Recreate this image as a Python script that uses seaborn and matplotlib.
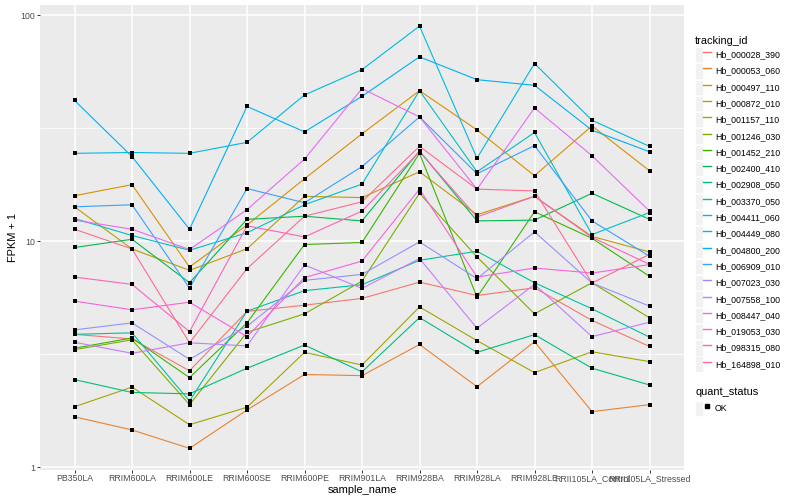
import numpy as np
import pandas as pd
import matplotlib
matplotlib.use("Agg")
import matplotlib.pyplot as plt
import seaborn as sns
from matplotlib.patches import Rectangle
from matplotlib.lines import Line2D
from matplotlib.legend_handler import HandlerTuple

plt.rcParams['font.family'] = ['Liberation Sans', 'DejaVu Sans']

samples = ["PB350LA", "RRIM600LA", "RRIM600LE", "RRIM600SE", "RRIM600PE", "RRIM901LA",
           "RRIM928BA", "RRIM928LA", "RRIM928LE", "RRII105LA_Control", "RRII105LA_Stressed"]

tracking_ids = ["Hb_000028_390", "Hb_000053_060", "Hb_000497_110", "Hb_000872_010",
                "Hb_001157_110", "Hb_001246_030", "Hb_001452_210", "Hb_002400_410",
                "Hb_002908_050", "Hb_003370_050", "Hb_004411_060", "Hb_004449_080",
                "Hb_004800_200", "Hb_006909_010", "Hb_007023_030", "Hb_007558_100",
                "Hb_008447_040", "Hb_019053_030", "Hb_098315_080", "Hb_164898_010"]

hb_000028_390 = [3.87, 3.69, 2.67, 4.89, 5.21, 5.58, 6.59, 5.75, 6.22, 4.46, 3.42]
hb_000053_060 = [1.67, 1.46, 1.21, 1.79, 2.57, 2.54, 3.49, 2.27, 3.59, 1.76, 1.89]
hb_000497_110 = [15.9, 17.8, 7.69, 11.8, 18.9, 29.9, 46.4, 31.1, 19.5, 32.4, 20.5]
hb_000872_010 = [14.2, 9.24, 7.43, 9.26, 15.8, 15.6, 20.3, 13.1, 15.8, 10.5, 8.96]
hb_001157_110 = [1.85, 2.26, 1.54, 1.84, 3.22, 2.83, 5.12, 3.63, 2.62, 3.24, 2.93]
hb_001246_030 = [3.31, 3.66, 1.89, 3.95, 4.77, 6.66, 16.3, 8.52, 4.77, 6.55, 4.58]
hb_001452_210 = [3.36, 3.73, 2.49, 4.35, 9.67, 9.87, 24.5, 5.65, 13.5, 10.3, 6.99]
hb_002400_410 = [9.38, 10.2, 6.55, 12.5, 12.9, 12.3, 25.1, 12.3, 12.4, 16.3, 12.5]
hb_002908_050 = [2.44, 2.14, 2.11, 2.74, 3.47, 2.64, 4.59, 3.22, 3.86, 2.74, 2.31]
hb_003370_050 = [3.87, 3.93, 1.96, 4.90, 6.04, 6.42, 8.23, 9.03, 6.55, 5.02, 3.76]
hb_004411_060 = [12.6, 10.6, 9.12, 10.9, 14.5, 17.9, 46.4, 20.3, 30.3, 10.7, 13.4]
hb_004449_080 = [24.5, 24.7, 24.5, 27.4, 44.4, 57.5, 89.6, 23.3, 61.2, 34.3, 26.3]
hb_004800_200 = [42.0, 23.7, 11.3, 39.5, 30.5, 43.8, 65.5, 51.9, 49.0, 31.0, 24.9]
hb_006909_010 = [14.2, 14.5, 6.20, 17.1, 14.8, 21.4, 35.5, 19.9, 26.5, 12.3, 8.58]
hb_007023_030 = [4.05, 4.35, 3.00, 4.20, 6.71, 7.13, 9.93, 6.83, 11.0, 6.53, 5.16]
hb_007558_100 = [3.57, 3.19, 3.55, 3.44, 7.85, 6.18, 8.38, 4.12, 6.44, 3.78, 4.38]
hb_008447_040 = [12.4, 11.3, 9.19, 13.8, 23.1, 47.4, 35.5, 17.0, 38.9, 23.9, 13.6]
hb_019053_030 = [5.43, 4.97, 5.37, 3.78, 6.90, 8.17, 17.0, 6.94, 7.61, 7.23, 7.88]
hb_098315_080 = [6.94, 6.44, 3.98, 11.7, 10.45, 13.6, 24.9, 12.8, 15.8, 10.4, 7.90]
hb_164898_010 = [11.3, 9.24, 3.55, 7.56, 12.9, 14.95, 26.3, 17.0, 16.7, 6.53, 8.75]

series = [hb_000028_390, hb_000053_060, hb_000497_110, hb_000872_010, hb_001157_110,
          hb_001246_030, hb_001452_210, hb_002400_410, hb_002908_050, hb_003370_050,
          hb_004411_060, hb_004449_080, hb_004800_200, hb_006909_010, hb_007023_030,
          hb_007558_100, hb_008447_040, hb_019053_030, hb_098315_080, hb_164898_010]

palette = ["#F8766D", "#EA8331", "#D89000", "#C09B00", "#A3A500", "#7CAE00", "#39B600",
           "#00BB4E", "#00BF7D", "#00C1A3", "#00BFC4", "#00BAE0", "#00B0F6", "#35A2FF",
           "#9590FF", "#C77CFF", "#E76BF3", "#FA62DB", "#FF62BC", "#FF6C91"]

rows = []
for tid, vals in zip(tracking_ids, series):
    for s, v in zip(samples, vals):
        rows.append({"tracking_id": tid, "sample_name": s, "fpkm": v, "quant_status": "OK"})
df = pd.DataFrame(rows)
df["sample_name"] = pd.Categorical(df["sample_name"], categories=samples, ordered=True)

fig = plt.figure(figsize=(8, 5), dpi=100)
ax = fig.add_axes([40/800, 1-469.5/500, (684-40)/800, (469.5-5)/500])
ax.set_facecolor("#EBEBEB")

sns.lineplot(data=df, x="sample_name", y="fpkm", hue="tracking_id", hue_order=tracking_ids,
             palette=palette, sort=False, estimator=None, lw=0.8, legend=False, ax=ax, zorder=2)
sns.scatterplot(data=df, x="sample_name", y="fpkm", color="black", marker="s", s=10,
                linewidth=0, legend=False, ax=ax, zorder=3)

ax.set_yscale("log")
lo, hi = np.log10(df["fpkm"].min()), np.log10(df["fpkm"].max())
r = hi - lo
ax.set_ylim(10**(lo - 0.05*r), 10**(hi + 0.05*r))
ax.set_xlim(-0.6, len(samples) - 1 + 0.6)
ax.set_yticks([1, 10, 100])
ax.set_yticklabels(["1", "10", "100"])
ax.set_yticks([10**0.5, 10**1.5], minor=True)
ax.yaxis.set_minor_formatter(matplotlib.ticker.NullFormatter())
ax.grid(which="major", color="white", lw=1.1)
ax.grid(which="minor", axis="y", color="white", lw=0.55)
ax.set_axisbelow(True)
for sp in ax.spines.values():
    sp.set_visible(False)
ax.tick_params(which="major", length=2, width=0.7, color="#333333", labelcolor="#4D4D4D",
               labelsize=6.34, pad=1.5)
ax.tick_params(which="minor", length=0)
ax.set_xlabel("sample_name", fontsize=7.92, labelpad=1)
ax.set_ylabel("FPKM + 1", fontsize=7.92, labelpad=1.5)

hmap = {tuple: HandlerTuple(ndivide=None, pad=0)}
handles = [(Rectangle((0, 0), 1, 1, fc="#F2F2F2", ec="white", lw=0.5),
            Line2D([], [], color=c, lw=1.0)) for c in palette]
fig.legend(handles, tracking_ids, handler_map=hmap, loc="upper left",
           bbox_to_anchor=(695/800, 1-36/500), frameon=False, title="tracking_id",
           fontsize=6.34, title_fontsize=7.92, handlelength=1.82, handleheight=2.3,
           labelspacing=0.11, handletextpad=0.45, borderpad=0, borderaxespad=0,
           alignment="left")
h2 = [(Rectangle((0, 0), 1, 1, fc="#F2F2F2", ec="white", lw=0.5),
       Line2D([], [], color="black", marker="s", ms=3, ls="none"))]
fig.legend(h2, ["OK"], handler_map=hmap, loc="upper left", numpoints=1,
           bbox_to_anchor=(695/800, 1-387/500), frameon=False, title="quant_status",
           fontsize=6.34, title_fontsize=7.92, handlelength=1.82, handleheight=2.3,
           labelspacing=0.4, handletextpad=0.45, borderpad=0, borderaxespad=0,
           alignment="left")

fig.savefig("out.png", dpi=100)
